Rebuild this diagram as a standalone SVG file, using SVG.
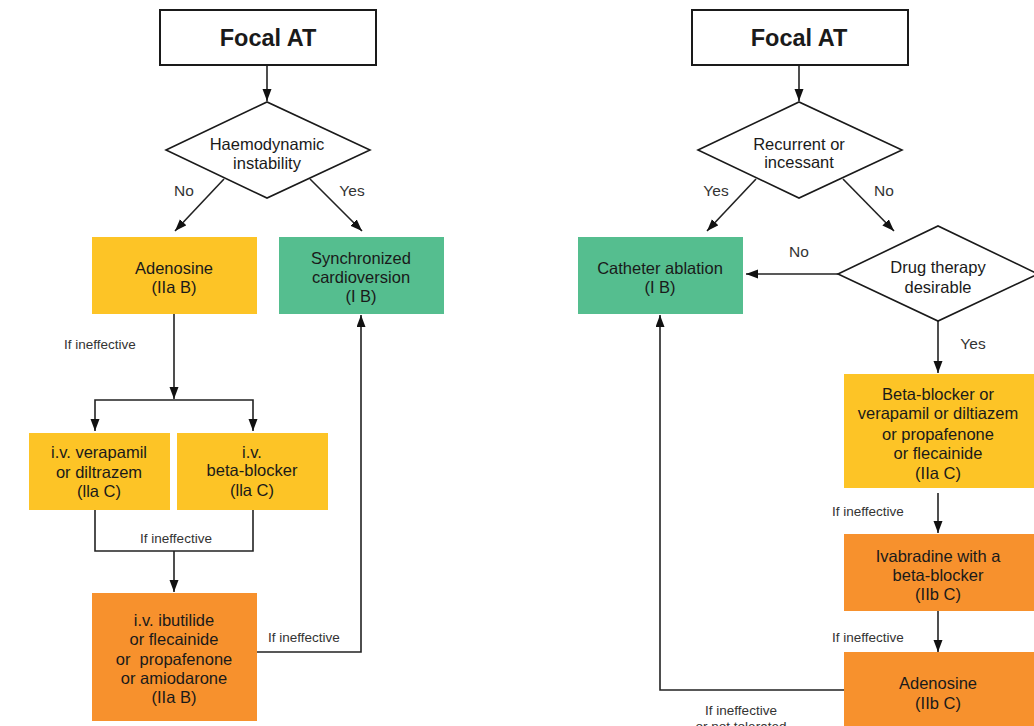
<svg xmlns="http://www.w3.org/2000/svg" width="1034" height="726" viewBox="0 0 1034 726">
<style>
text{font-family:"Liberation Sans",Arial,sans-serif;fill:#1a1a1a;text-anchor:middle}
.t{font-size:16.5px}
.b{font-size:23.5px;font-weight:bold}
.s{font-size:13.5px;fill:#333}
.yn{font-size:15.5px;fill:#333}
.st{text-anchor:start}
.start{fill:#fff;stroke:#1a1a1a;stroke-width:2}
.dia{fill:#fff;stroke:#1a1a1a;stroke-width:1.6}
.y{fill:#FDC426}
.g{fill:#55BE8F}
.o{fill:#F7912D}
#connectors path{fill:none;stroke:#222;stroke-width:1.6}
</style>
<defs>
<marker id="ah" markerUnits="userSpaceOnUse" markerWidth="12" markerHeight="10" refX="12" refY="4.5" orient="auto">
<path d="M0,0 L12,4.5 L0,9 z" fill="#111"/>
</marker>
</defs>
<g id="connectors">
<path d="M267,66 V101" marker-end="url(#ah)"/>
<path d="M224,179 L175,231" marker-end="url(#ah)"/>
<path d="M310,179 L362,231" marker-end="url(#ah)"/>
<path d="M174,314 V399" marker-end="url(#ah)"/>
<path d="M174,400 H95 V431" marker-end="url(#ah)"/>
<path d="M174,400 H253 V431" marker-end="url(#ah)"/>
<path d="M95,510 V551 H253 V510"/>
<path d="M174,551 V592" marker-end="url(#ah)"/>
<path d="M257,652 H361 V315" marker-end="url(#ah)"/>
<path d="M799,66 V101" marker-end="url(#ah)"/>
<path d="M756,179 L707,231" marker-end="url(#ah)"/>
<path d="M843,179 L894,231" marker-end="url(#ah)"/>
<path d="M838,274 H746" marker-end="url(#ah)"/>
<path d="M938,321 V373" marker-end="url(#ah)"/>
<path d="M938,493 V533" marker-end="url(#ah)"/>
<path d="M938,611 V652" marker-end="url(#ah)"/>
<path d="M844,690 H660 V315" marker-end="url(#ah)"/>
</g>
<g id="labels">
<text class="yn" x="184" y="196">No</text>
<text class="yn" x="352" y="196">Yes</text>
<text class="s st" x="64" y="348.5">If ineffective</text>
<text class="s" x="176" y="542.5">If ineffective</text>
<text class="s st" x="268" y="641.5">If ineffective</text>
<text class="yn" x="716" y="196">Yes</text>
<text class="yn" x="884" y="196">No</text>
<text class="yn" x="799" y="257">No</text>
<text class="yn" x="973" y="349">Yes</text>
<text class="s st" x="832" y="515.5">If ineffective</text>
<text class="s st" x="832" y="641.5">If ineffective</text>
<text class="s" x="741" y="714.5">If ineffective</text>
<text class="s" x="741" y="731">or not tolerated</text>
</g>
<g id="focal-left">
<rect class="start" x="160" y="10" width="216" height="55"/>
<text class="b" x="268" y="46">Focal AT</text>
</g>
<g id="haemo">
<polygon class="dia" points="166,150 267,102 370,150 267,198"/>
<text class="t" x="267" y="149.5">Haemodynamic</text>
<text class="t" x="267" y="168.5">instability</text>
</g>
<g id="adenosine-left">
<rect class="y" x="92" y="237" width="165" height="77"/>
<text class="t" x="174" y="274">Adenosine</text>
<text class="t" x="174" y="293">(IIa B)</text>
</g>
<g id="cardioversion">
<rect class="g" x="279" y="237" width="165" height="77"/>
<text class="t" x="361" y="264">Synchronized</text>
<text class="t" x="361" y="283">cardioversion</text>
<text class="t" x="361" y="302">(I B)</text>
</g>
<g id="verapamil">
<rect class="y" x="29" y="433" width="141" height="77"/>
<text class="t" x="99" y="458">i.v. verapamil</text>
<text class="t" x="99" y="478">or diltrazem</text>
<text class="t" x="99" y="497">(lla C)</text>
</g>
<g id="betablocker-iv">
<rect class="y" x="177" y="433" width="151" height="77"/>
<text class="t" x="252" y="458">i.v.</text>
<text class="t" x="252" y="476">beta-blocker</text>
<text class="t" x="252" y="496">(lla C)</text>
</g>
<g id="ibutilide">
<rect class="o" x="92" y="593" width="165" height="128"/>
<text class="t" x="174" y="626">i.v. ibutilide</text>
<text class="t" x="174" y="645">or flecainide</text>
<text class="t" x="174" y="665" xml:space="preserve">or  propafenone</text>
<text class="t" x="174" y="684">or amiodarone</text>
<text class="t" x="174" y="703">(IIa B)</text>
</g>
<g id="focal-right">
<rect class="start" x="692" y="10" width="216" height="55"/>
<text class="b" x="799" y="46">Focal AT</text>
</g>
<g id="recurrent">
<polygon class="dia" points="698,150 799,102 902,150 799,198"/>
<text class="t" x="799" y="149.5">Recurrent or</text>
<text class="t" x="799" y="168">incessant</text>
</g>
<g id="ablation">
<rect class="g" x="578" y="237" width="165" height="77"/>
<text class="t" x="660" y="274">Catheter ablation</text>
<text class="t" x="660" y="293">(I B)</text>
</g>
<g id="drug-therapy">
<polygon class="dia" points="838,274 938,226 1038,274 938,321"/>
<text class="t" x="938" y="273">Drug therapy</text>
<text class="t" x="938" y="293">desirable</text>
</g>
<g id="beta-combo">
<rect class="y" x="844" y="374" width="190" height="114"/>
<text class="t" x="938" y="400">Beta-blocker or</text>
<text class="t" x="938" y="419">verapamil or diltiazem</text>
<text class="t" x="938" y="440">or propafenone</text>
<text class="t" x="938" y="459">or flecainide</text>
<text class="t" x="938" y="479">(IIa C)</text>
</g>
<g id="ivabradine">
<rect class="o" x="844" y="534" width="190" height="77"/>
<text class="t" x="938" y="562">Ivabradine with a</text>
<text class="t" x="938" y="581">beta-blocker</text>
<text class="t" x="938" y="600">(IIb C)</text>
</g>
<g id="adenosine-right">
<rect class="o" x="844" y="652" width="190" height="80"/>
<text class="t" x="938" y="689">Adenosine</text>
<text class="t" x="938" y="709">(IIb C)</text>
</g>
</svg>
